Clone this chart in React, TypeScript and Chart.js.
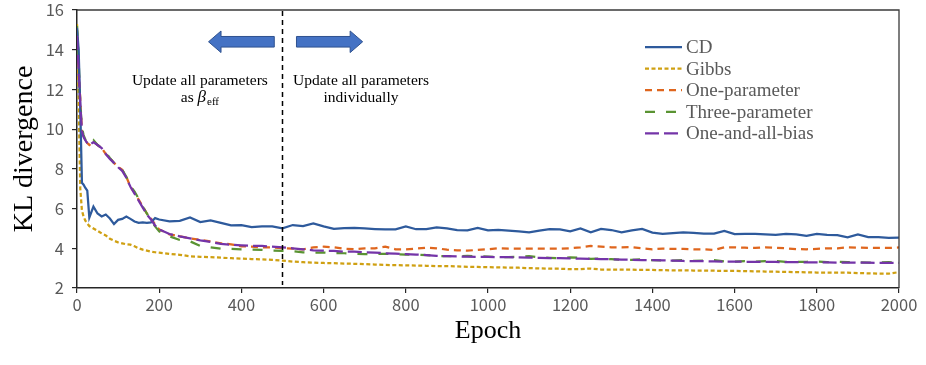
import React, { useEffect, useRef } from 'react';
import { Chart, registerables } from 'chart.js';

Chart.register(...registerables);

const epochs = [
  0, 4, 8, 12, 16, 20, 25, 30, 40, 50, 60, 70, 80, 90, 100, 110, 120, 130, 140, 150, 160, 170, 180, 190, 200,
  225, 250, 275, 300, 325, 350, 375, 400, 425, 450, 475, 500, 525, 550, 575, 600, 625, 650, 675, 700,
  725, 750, 775, 800, 825, 850, 875, 900, 925, 950, 975, 1000, 1025, 1050, 1075, 1100, 1125, 1150, 1175, 1200,
  1225, 1250, 1275, 1300, 1325, 1350, 1375, 1400, 1425, 1450, 1475, 1500, 1525, 1550, 1575, 1600,
  1625, 1650, 1675, 1700, 1725, 1750, 1775, 1800, 1825, 1850, 1875, 1900, 1925, 1950, 1975, 2000,
];

const cdValues = [
  15.1, 14.0, 11.0, 7.3, 7.2, 7.05, 6.9, 5.55, 6.1, 5.75, 5.6, 5.7, 5.5, 5.22, 5.43, 5.48, 5.6, 5.48, 5.35, 5.28, 5.3, 5.28, 5.3, 5.52, 5.45,
  5.35, 5.38, 5.55, 5.32, 5.4, 5.28, 5.15, 5.17, 5.07, 5.1, 5.1, 5.0, 5.17, 5.12, 5.25, 5.1, 4.98, 5.02, 5.03, 5.0,
  4.97, 4.95, 4.95, 5.1, 4.96, 4.96, 5.05, 5.0, 4.92, 4.9, 5.03, 4.9, 4.93, 4.89, 4.85, 4.8, 4.89, 4.96, 4.95, 4.85,
  5.0, 4.8, 4.98, 4.92, 4.8, 4.9, 4.98, 4.79, 4.72, 4.76, 4.8, 4.78, 4.74, 4.74, 4.88, 4.71,
  4.73, 4.72, 4.7, 4.68, 4.73, 4.7, 4.63, 4.72, 4.68, 4.66, 4.55, 4.7, 4.56, 4.56, 4.53, 4.54,
];

const gibbsValues = [
  15.3, 11.5, 7.0, 5.9, 5.6, 5.4, 5.25, 5.12, 5.0, 4.88, 4.75, 4.65, 4.48, 4.38, 4.3, 4.25, 4.2, 4.18, 4.1, 4.0, 3.93, 3.88, 3.83, 3.8, 3.78,
  3.72, 3.67, 3.6, 3.57, 3.55, 3.53, 3.5, 3.48, 3.46, 3.44, 3.42, 3.38, 3.33, 3.3, 3.28, 3.26, 3.25, 3.23, 3.22, 3.2,
  3.18, 3.16, 3.15, 3.14, 3.13, 3.12, 3.1, 3.1, 3.09, 3.07, 3.06, 3.05, 3.04, 3.03, 3.02, 3.0, 2.99, 2.97, 2.97, 2.95,
  2.95, 2.98, 2.93, 2.93, 2.92, 2.92, 2.91, 2.91, 2.9, 2.89, 2.89, 2.88, 2.88, 2.87, 2.86, 2.86,
  2.85, 2.84, 2.83, 2.82, 2.81, 2.8, 2.79, 2.78, 2.78, 2.77, 2.77, 2.75, 2.74, 2.72, 2.72, 2.8,
];

const oneParamValues = [
  14.8, 13.0, 11.5, 9.9, 9.6, 9.45, 9.3, 9.2, 9.38, 9.2, 9.05, 8.75, 8.55, 8.3, 8.1, 7.95, 7.6, 7.1, 6.8, 6.45, 6.1, 5.75, 5.5, 5.2, 4.95,
  4.7, 4.6, 4.5, 4.42, 4.35, 4.25, 4.2, 4.1, 4.08, 4.05, 4.05, 4.0, 3.98, 3.95, 4.05, 4.08, 4.05, 3.98, 3.95, 4.0,
  4.0, 4.08, 3.95, 3.95, 3.98, 4.03, 4.0, 3.93, 3.9, 3.88, 3.92, 3.95, 4.0, 3.98, 3.98, 3.98, 3.98, 3.98, 3.98, 4.0,
  4.05, 4.12, 4.08, 4.05, 4.05, 4.06, 4.0, 3.95, 3.98, 3.97, 3.97, 3.95, 3.95, 3.92, 4.05, 4.05,
  4.03, 4.02, 4.05, 4.03, 4.0, 3.96, 3.95, 3.97, 4.0, 4.0, 4.05, 4.03, 4.02, 4.02, 4.02, 4.04,
];

const threeParamValues = [
  15.2, 13.5, 11.2, 10.1, 9.7, 9.5, 9.35, 9.25, 9.45, 9.2, 9.05, 8.82, 8.55, 8.3, 8.12, 7.95, 7.6, 7.15, 6.85, 6.5, 6.1, 5.75, 5.4, 5.1, 4.85,
  4.6, 4.42, 4.35, 4.12, 4.05, 3.98, 3.97, 3.95, 3.93, 3.92, 3.88, 3.87, 3.85, 3.8, 3.78, 3.78, 3.76, 3.75, 3.72, 3.7,
  3.72, 3.72, 3.7, 3.68, 3.68, 3.66, 3.62, 3.6, 3.6, 3.62, 3.6, 3.58, 3.55, 3.56, 3.57, 3.6, 3.54, 3.52, 3.5, 3.54,
  3.52, 3.47, 3.48, 3.45, 3.43, 3.42, 3.45, 3.4, 3.39, 3.38, 3.4, 3.37, 3.38, 3.4, 3.34, 3.33,
  3.35, 3.33, 3.35, 3.36, 3.32, 3.32, 3.32, 3.34, 3.3, 3.32, 3.3, 3.29, 3.28, 3.28, 3.3, 3.27,
];

const allBiasValues = [
  14.7, 13.0, 11.3, 9.9, 9.6, 9.45, 9.3, 9.2, 9.35, 9.2, 9.05, 8.75, 8.5, 8.3, 8.08, 7.9, 7.55, 7.1, 6.75, 6.4, 6.05, 5.7, 5.45, 5.15, 4.95,
  4.72, 4.6, 4.5, 4.4, 4.32, 4.22, 4.18, 4.15, 4.12, 4.12, 4.08, 4.05, 4.0, 3.95, 3.9, 3.88, 3.87, 3.83, 3.83, 3.8,
  3.78, 3.75, 3.73, 3.71, 3.68, 3.66, 3.62, 3.6, 3.59, 3.58, 3.57, 3.57, 3.55, 3.55, 3.54, 3.53, 3.52, 3.5, 3.5, 3.49,
  3.48, 3.47, 3.46, 3.45, 3.43, 3.42, 3.41, 3.4, 3.39, 3.38, 3.36, 3.35, 3.35, 3.34, 3.33, 3.33,
  3.32, 3.32, 3.31, 3.31, 3.3, 3.3, 3.29, 3.29, 3.29, 3.28, 3.28, 3.27, 3.28, 3.26, 3.27, 3.27,
];

const seriesNames = ['CD', 'Gibbs', 'One-parameter', 'Three-parameter', 'One-and-all-bias'];
const seriesColors = ['#2E5A9C', '#CFA012', '#DF661E', '#5A9332', '#7434A8'];
const seriesDashes: number[][] = [[], [4, 2.5], [7, 5], [10, 11], [14, 5]];
const seriesOrder = [1, 4, 3, 2, 0];
const seriesValues = [cdValues, gibbsValues, oneParamValues, threeParamValues, allBiasValues];

const yTicks = [2, 4, 6, 8, 10, 12, 14, 16];
const xTicks = [0, 200, 400, 600, 800, 1000, 1200, 1400, 1600, 1800, 2000];

const dividerEpoch = 500;
const leftNote = ['Update all parameters', 'as '];
const rightNote = ['Update all parameters', 'individually'];

const SERIF = '"Liberation Serif", "Times New Roman", serif';
const SANS = '"Noto Sans CJK JP", "Noto Sans", sans-serif';

function drawArrow(ctx: CanvasRenderingContext2D, xTail: number, xTip: number, yc: number) {
  const dir = Math.sign(xTip - xTail);
  const headLen = 12.5;
  const shaftHalf = 5.3;
  const headHalf = 10.8;
  const xBase = xTip - dir * headLen;
  ctx.beginPath();
  ctx.moveTo(xTail, yc - shaftHalf);
  ctx.lineTo(xBase, yc - shaftHalf);
  ctx.lineTo(xBase, yc - headHalf);
  ctx.lineTo(xTip, yc);
  ctx.lineTo(xBase, yc + headHalf);
  ctx.lineTo(xBase, yc + shaftHalf);
  ctx.lineTo(xTail, yc + shaftHalf);
  ctx.closePath();
  ctx.fillStyle = '#4472C4';
  ctx.fill();
  ctx.strokeStyle = '#2F528F';
  ctx.lineWidth = 1;
  ctx.stroke();
}

const overlayPlugin = {
  id: 'overlay',
  afterDraw(chart: any) {
    const { ctx, chartArea, scales } = chart;
    const xs = scales.x;
    const ys = scales.y;
    ctx.save();

    // frame (top and right)
    ctx.strokeStyle = '#3a3a3a';
    ctx.lineWidth = 1.3;
    ctx.beginPath();
    ctx.moveTo(chartArea.left, chartArea.top);
    ctx.lineTo(chartArea.right, chartArea.top);
    ctx.lineTo(chartArea.right, chartArea.bottom);
    ctx.stroke();

    // divider
    const xd = xs.getPixelForValue(dividerEpoch);
    ctx.setLineDash([5, 4]);
    ctx.strokeStyle = '#000';
    ctx.lineWidth = 1.5;
    ctx.beginPath();
    ctx.moveTo(xd, chartArea.top + 1);
    ctx.lineTo(xd, chartArea.bottom - 3);
    ctx.stroke();
    ctx.setLineDash([]);

    // arrows
    const ya = ys.getPixelForValue(14.4);
    drawArrow(ctx, xs.getPixelForValue(480), xs.getPixelForValue(320), ya);
    drawArrow(ctx, xs.getPixelForValue(534), xs.getPixelForValue(695), ya);

    // notes
    const xl = xs.getPixelForValue(299);
    const xr = xs.getPixelForValue(691);
    const b1 = chartArea.top + 75;
    const b2 = chartArea.top + 91.5;
    ctx.fillStyle = '#000';
    ctx.textBaseline = 'alphabetic';
    ctx.textAlign = 'center';
    ctx.font = `15.5px ${SERIF}`;
    ctx.fillText(leftNote[0], xl, b1);
    ctx.fillText(rightNote[0], xr, b1);
    ctx.fillText(rightNote[1], xr, b2);

    // "as β_eff"
    ctx.textAlign = 'left';
    const f1 = `15.5px ${SERIF}`;
    const f2 = `italic 17px ${SERIF}`;
    const f3 = `11px ${SERIF}`;
    ctx.font = f1;
    const w1 = ctx.measureText(leftNote[1]).width;
    ctx.font = f2;
    const w2 = ctx.measureText('β').width;
    ctx.font = f3;
    const w3 = ctx.measureText('eff').width;
    let x0 = xl - (w1 + w2 + 1 + w3) / 2;
    ctx.font = f1;
    ctx.fillText(leftNote[1], x0, b2);
    x0 += w1;
    ctx.font = f2;
    ctx.fillText('β', x0, b2);
    x0 += w2 + 1;
    ctx.font = f3;
    ctx.fillText('eff', x0, b2 + 3);

    // legend
    const lx0 = 645;
    const lx1 = 682;
    const ly0 = 47;
    const lstep = 21.6;
    ctx.font = `19px ${SERIF}`;
    ctx.textBaseline = 'middle';
    for (let i = 0; i < seriesNames.length; i++) {
      const y = ly0 + i * lstep;
      ctx.strokeStyle = seriesColors[i];
      ctx.lineWidth = 2.25;
      ctx.setLineDash(seriesDashes[i]);
      ctx.beginPath();
      ctx.moveTo(lx0, y);
      ctx.lineTo(lx1, y);
      ctx.stroke();
      ctx.setLineDash([]);
      ctx.fillStyle = '#595959';
      ctx.fillText(seriesNames[i], lx1 + 4, y + 1);
    }
    ctx.restore();
  },
};

export default function App() {
  const canvasRef = useRef<HTMLCanvasElement | null>(null);

  useEffect(() => {
    const canvas = canvasRef.current;
    if (!canvas) return;
    const datasets = seriesNames.map((name, i) => ({
      label: name,
      data: epochs.map((e, j) => ({ x: e, y: seriesValues[i][j] })),
      borderColor: seriesColors[i],
      backgroundColor: seriesColors[i],
      borderWidth: 2.25,
      borderDash: seriesDashes[i],
      pointRadius: 0,
      tension: 0,
      fill: false,
      order: seriesOrder[i],
    }));

    const chart = new Chart(canvas, {
      type: 'line',
      data: { datasets },
      options: {
        responsive: false,
        animation: false,
        devicePixelRatio: 1,
        layout: { padding: { top: 0, right: 27, left: 0, bottom: 0 } },
        plugins: {
          legend: { display: false },
          tooltip: { enabled: false },
        },
        scales: {
          x: {
            type: 'linear',
            min: 0,
            max: 2000,
            afterFit: (s: any) => {
              s.height = 77;
            },
            afterBuildTicks: (s: any) => {
              s.ticks = xTicks.map((v) => ({ value: v }));
            },
            ticks: {
              color: '#595959',
              font: { family: SANS, size: 16.5 },
              padding: 2,
              maxRotation: 0,
              autoSkip: false,
              callback: (v: any) => String(v),
            },
            grid: { drawOnChartArea: false, drawTicks: true, tickLength: 5, color: '#262626', lineWidth: 1.2 },
            border: { display: true, color: '#262626', width: 1.5 },
            title: {
              display: true,
              text: 'Epoch',
              color: '#000',
              font: { family: SERIF, size: 26 },
              padding: { top: 0, bottom: 18 },
            },
          },
          y: {
            type: 'linear',
            min: 2,
            max: 16,
            afterFit: (s: any) => {
              s.width = 77;
              s.paddingTop = 10;
            },
            afterBuildTicks: (s: any) => {
              s.ticks = yTicks.map((v) => ({ value: v }));
            },
            ticks: {
              color: '#595959',
              font: { family: SANS, size: 16.5 },
              padding: 8,
              autoSkip: false,
              callback: (v: any) => String(v),
            },
            grid: { drawOnChartArea: false, drawTicks: true, tickLength: 5, color: '#262626', lineWidth: 1.2 },
            border: { display: true, color: '#262626', width: 1.5 },
            title: {
              display: true,
              text: 'KL divergence',
              color: '#000',
              font: { family: SERIF, size: 28 },
              padding: { top: 8, bottom: 0 },
            },
          },
        },
      },
      plugins: [overlayPlugin],
    } as any);

    return () => {
      chart.destroy();
    };
  }, []);

  return (
    <div style={{ position: 'fixed', left: 0, top: 0, width: 926, height: 365, background: '#fff' }}>
      <canvas ref={canvasRef} width={926} height={365} style={{ width: 926, height: 365, display: 'block' }} />
    </div>
  );
}
